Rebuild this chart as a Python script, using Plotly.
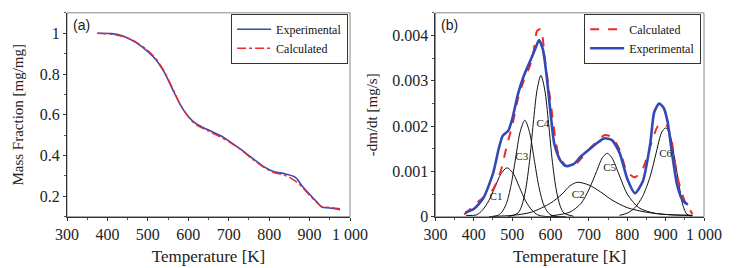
import plotly.graph_objects as go

# ---------- Panel (a) data ----------
tga_T = [375, 410, 440, 470, 500, 520, 540, 560, 580, 600, 620, 650, 680, 700, 730,
         760, 790, 810, 840, 865, 880, 900, 920, 930, 950, 975]
tga_exp = [1.0, 0.998, 0.985, 0.955, 0.91, 0.87, 0.81, 0.73, 0.65, 0.592, 0.555, 0.525,
           0.497, 0.472, 0.43, 0.385, 0.342, 0.322, 0.31, 0.293, 0.255, 0.21, 0.168,
           0.148, 0.143, 0.135]
tga_calc = [1.0, 0.995, 0.983, 0.958, 0.915, 0.875, 0.815, 0.735, 0.652, 0.59, 0.55,
            0.52, 0.49, 0.468, 0.428, 0.38, 0.338, 0.318, 0.302, 0.275, 0.248, 0.205,
            0.165, 0.15, 0.146, 0.14]

# ---------- Panel (b) data ----------
dtg_T_exp = [378, 400, 425, 450, 465, 475, 490, 500, 515, 530, 545, 560, 570, 580,
             590, 600, 610, 625, 640, 660, 680, 700, 720, 740, 760, 780, 800, 820,
             840, 860, 870, 883, 895, 905, 915, 930, 945, 958]
dtg_exp = [0.00009, 0.00017, 0.00041, 0.00095, 0.0015, 0.00178, 0.0019, 0.00215,
           0.0027, 0.0031, 0.0034, 0.0037, 0.0039, 0.0037, 0.0031, 0.0023, 0.0016,
           0.00125, 0.00112, 0.00116, 0.00134, 0.00148, 0.00162, 0.00173, 0.00169,
           0.00141, 0.00084, 0.00052, 0.00077, 0.00162, 0.0023, 0.0025, 0.0024,
           0.0021, 0.0015, 0.0007, 0.00035, 0.00027]

dtg_T_calc = [375, 425, 450, 470, 487, 500, 515, 530, 545, 555, 565, 575, 585, 600,
              620, 640, 660, 700, 740, 760, 780, 800, 820, 840, 860, 880, 900, 915,
              930, 950, 970]
dtg_calc = [0.00005, 0.00043, 0.0006, 0.001, 0.0016, 0.002, 0.0026, 0.003, 0.0033,
            0.0036, 0.0041, 0.00414, 0.0035, 0.00254, 0.0014, 0.00112, 0.00112,
            0.00148, 0.0018, 0.00176, 0.00148, 0.00098, 0.00087, 0.00105, 0.00155,
            0.002, 0.00205, 0.0017, 0.0009, 0.00034, 0.00006]

c1_T = [380, 407, 423, 439, 455, 471, 487, 503, 519, 535, 551, 567, 583, 620]
c1_v = [0.00003, 0.00004, 0.00015, 0.00035, 0.00065, 0.00095, 0.00108, 0.00095,
        0.00065, 0.00035, 0.00015, 0.00004, 0.00001, 0.0]

c3_T = [440, 461, 473, 485, 497, 509, 521, 533, 545, 557, 569, 581, 593, 605, 640]
c3_v = [0.0, 0.000024, 0.0001, 0.00029, 0.00069, 0.00129, 0.00188, 0.00213, 0.00188,
        0.00129, 0.00069, 0.00029, 0.0001, 0.000024, 0.0]

c4_T = [490, 515, 525, 535, 545, 555, 565, 575, 585, 595, 605, 615, 625, 635, 660]
c4_v = [0.0, 0.00008, 0.00024, 0.00059, 0.0012, 0.00206, 0.0028, 0.00312, 0.0028,
        0.00206, 0.0012, 0.00059, 0.00024, 0.00008, 0.00001]

c2_T = [450, 500, 550, 600, 630, 650, 670, 700, 730, 760, 800, 850, 900, 970]
c2_v = [0.00001, 0.00003, 0.0001, 0.0003, 0.0005, 0.00068, 0.00076, 0.0007, 0.00055,
        0.00037, 0.0002, 0.0001, 0.00005, 0.00003]

c5_T = [600, 650, 680, 700, 720, 735, 748, 760, 780, 800, 830, 870, 920, 970]
c5_v = [0.00002, 0.0001, 0.0003, 0.0006, 0.001, 0.0013, 0.0014, 0.0013, 0.0009,
        0.0005, 0.0002, 0.00008, 0.00004, 0.00003]

c6_T = [780, 800, 820, 840, 860, 875, 890, 900, 910, 921, 935, 945, 955, 968]
c6_v = [0.00003, 0.00008, 0.0002, 0.00045, 0.0009, 0.0014, 0.00187, 0.00196, 0.00185,
        0.0014, 0.0007, 0.00025, 0.00006, 0.00001]

comp_labels = ["C1", "C3", "C4", "C2", "C5", "C6"]
comp_label_T = [458, 525, 580, 672, 754, 900]
comp_label_v = [0.00042, 0.00132, 0.00205, 0.00048, 0.00107, 0.00137]

x_ticks = [300, 400, 500, 600, 700, 800, 900, 1000]
x_ticktext = ["300", "400", "500", "600", "700", "800", "900", "1 000"]
ya_ticks = [0.2, 0.4, 0.6, 0.8, 1.0]
ya_ticktext = ["0.2", "0.4", "0.6", "0.8", "1"]
yb_ticks = [0, 0.001, 0.002, 0.003, 0.004]
yb_ticktext = ["0", "0.001", "0.002", "0.003", "0.004"]

BLUE = "#3349b5"
RED = "#f02a2a"
SERIF = "Liberation Serif"
W, H = 738, 268

fig = go.Figure()

# Panel (a)
fig.add_trace(go.Scatter(x=tga_T, y=tga_exp, mode="lines", name="Experimental",
                         line=dict(color=BLUE, width=1.6, shape="spline", smoothing=0.8),
                         xaxis="x", yaxis="y", legend="legend"))
fig.add_trace(go.Scatter(x=tga_T, y=tga_calc, mode="lines", name="Calculated",
                         line=dict(color=RED, width=1.4, dash="dashdot", shape="spline",
                                   smoothing=0.8),
                         xaxis="x", yaxis="y", legend="legend"))

# Panel (b) components
for tt, vv in [(c1_T, c1_v), (c3_T, c3_v), (c4_T, c4_v), (c2_T, c2_v), (c5_T, c5_v), (c6_T, c6_v)]:
    fig.add_trace(go.Scatter(x=tt, y=vv, mode="lines", showlegend=False,
                             line=dict(color="#111111", width=1, shape="spline", smoothing=0.8),
                             xaxis="x2", yaxis="y2"))
fig.add_trace(go.Scatter(x=dtg_T_calc, y=dtg_calc, mode="lines", name="Calculated",
                         line=dict(color=RED, width=2, dash="dash", shape="spline",
                                   smoothing=0.6),
                         xaxis="x2", yaxis="y2", legend="legend2"))
fig.add_trace(go.Scatter(x=dtg_T_exp, y=dtg_exp, mode="lines", name="Experimental",
                         line=dict(color=BLUE, width=2.6, shape="spline", smoothing=0.6),
                         xaxis="x2", yaxis="y2", legend="legend2"))
fig.add_trace(go.Scatter(x=comp_label_T, y=comp_label_v, mode="text", text=comp_labels,
                         textfont=dict(family=SERIF, size=11, color="#222"),
                         showlegend=False, xaxis="x2", yaxis="y2"))

ax_common = dict(showline=True, linecolor="#333", linewidth=1, mirror=False,
                 ticks="outside", ticklen=3, tickcolor="#333", showgrid=False,
                 zeroline=False, tickfont=dict(family=SERIF, size=16, color="#222"))
minor = dict(ticks="outside", ticklen=2, tickcolor="#555", showgrid=False)
xt_font = dict(family=SERIF, size=17, color="#222")
yt_font = dict(family=SERIF, size=15, color="#222")

xa_dom = [49 / W, 344 / W]
xb_dom = [433 / W, 713 / W]
y_dom = [1 - 216 / H, 1 - 5 / H]

fig.update_layout(
    width=W, height=H, margin=dict(l=0, r=0, t=0, b=0),
    paper_bgcolor="white", plot_bgcolor="white", showlegend=True,
    xaxis=dict(domain=xa_dom, range=[300, 1000], tickvals=x_ticks, ticktext=x_ticktext,
               title=dict(text="Temperature [K]", standoff=8, font=xt_font), anchor="y",
               minor=dict(dtick=50, **minor), **ax_common),
    yaxis=dict(domain=y_dom, range=[0.1, 1.1], tickvals=ya_ticks, ticktext=ya_ticktext,
               title=dict(text="Mass Fraction [mg/mg]", standoff=12, font=yt_font),
               anchor="x", minor=dict(dtick=0.1, tick0=0, **minor), **ax_common),
    xaxis2=dict(domain=xb_dom, range=[300, 1000], tickvals=x_ticks, ticktext=x_ticktext,
                title=dict(text="Temperature [K]", standoff=8, font=xt_font), anchor="y2",
                minor=dict(dtick=50, **minor), **ax_common),
    yaxis2=dict(domain=y_dom, range=[0, 0.0045], tickvals=yb_ticks, ticktext=yb_ticktext,
                title=dict(text="-dm/dt [mg/s]", standoff=10, font=yt_font), anchor="x2",
                minor=dict(dtick=0.0005, tick0=0, **minor), **ax_common),
    legend=dict(x=342 / W, xanchor="right", y=1 - 6 / H, yanchor="top",
                bgcolor="white", bordercolor="#333", borderwidth=1,
                font=dict(family=SERIF, size=12, color="#111"),
                tracegroupgap=0, itemwidth=34),
    legend2=dict(x=710 / W, xanchor="right", y=1 - 6 / H, yanchor="top",
                 bgcolor="white", bordercolor="#333", borderwidth=1,
                 font=dict(family=SERIF, size=12, color="#111"),
                 tracegroupgap=0, itemwidth=34),
)

# frame top/right (gray)
for xd in (xa_dom, xb_dom):
    fig.add_shape(type="rect", xref="paper", yref="paper", x0=xd[0], x1=xd[1],
                  y0=y_dom[0], y1=y_dom[1], line=dict(color="#888", width=1),
                  fillcolor="rgba(0,0,0,0)", layer="below")

fig.add_annotation(text="(a)", xref="paper", yref="paper", x=53 / W, y=1 - 7 / H,
                   xanchor="left", yanchor="top", showarrow=False,
                   font=dict(family="Liberation Sans", size=14, color="#222"))
fig.add_annotation(text="(b)", xref="paper", yref="paper", x=437 / W, y=1 - 7 / H,
                   xanchor="left", yanchor="top", showarrow=False,
                   font=dict(family="Liberation Sans", size=14, color="#222"))

fig.write_html("out.html")
